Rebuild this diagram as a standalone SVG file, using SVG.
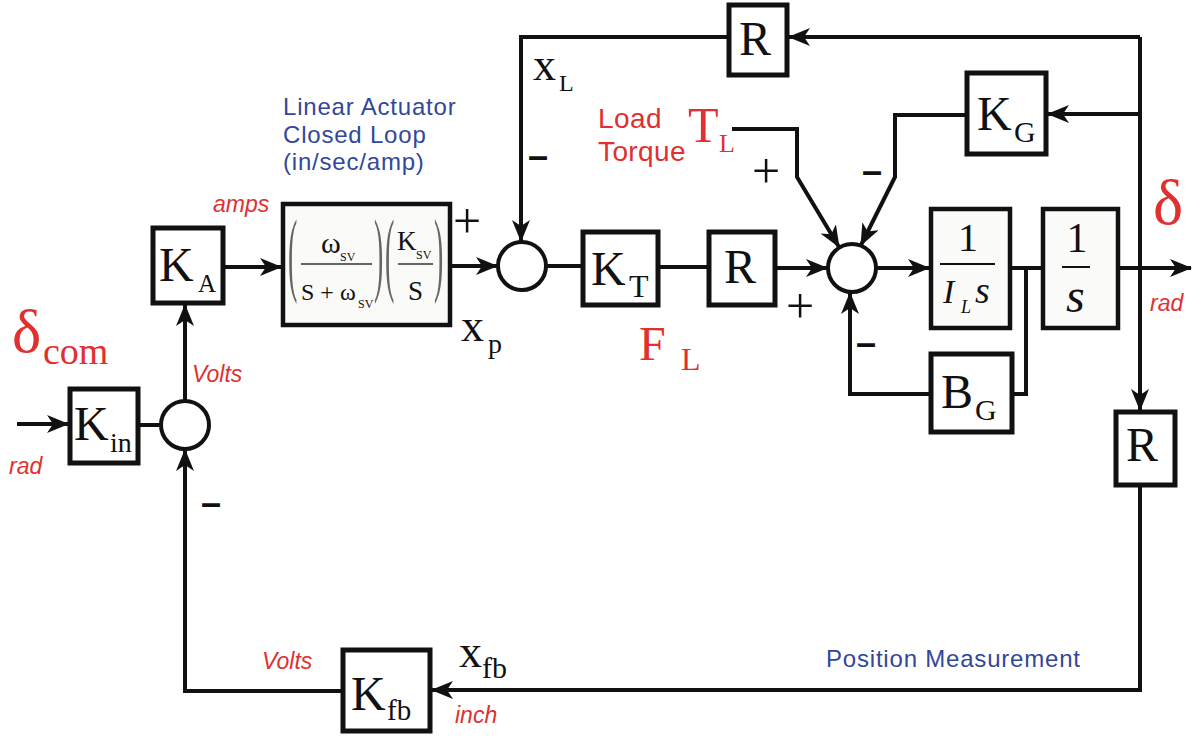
<svg xmlns="http://www.w3.org/2000/svg" width="1195" height="741" viewBox="0 0 1195 741">
<style>
.box{fill:#fff;stroke:#111;stroke-width:5}
.fbox{fill:#fbfbf9;stroke:#111;stroke-width:4.5}
.sum{fill:#fff;stroke:#111;stroke-width:4}
.ln{fill:none;stroke:#111;stroke-width:4}
.arr{fill:none;stroke:#111;stroke-width:4;marker-end:url(#ah)}
.ser{font-family:"Liberation Serif","Times New Roman",serif;fill:#111}
.red{fill:#e0302f}
.lab{font-family:"Liberation Sans",Arial,sans-serif;font-style:italic;font-size:23px;fill:#e0302f}
.blue{font-family:"Liberation Sans",Arial,sans-serif;font-size:24px;letter-spacing:0.8px;fill:#33479a}
.rsans{font-family:"Liberation Sans",Arial,sans-serif;font-size:28px;letter-spacing:0.4px;fill:#e0302f}
.minus{font-family:"Liberation Sans",Arial,sans-serif;font-weight:bold;font-size:36px;fill:#111}
.plus{font-family:"Liberation Serif","Times New Roman",serif;font-size:50px;fill:#111}
.frl{stroke:#333;stroke-width:1.5}
.par{font-family:"Liberation Serif","Times New Roman",serif;font-size:40px;fill:#666}
.sv{font-family:"Liberation Serif","Times New Roman",serif;font-size:12px;fill:#111}
</style>
<defs>
<marker id="ah" markerUnits="userSpaceOnUse" markerWidth="24" markerHeight="20" refX="21" refY="9" orient="auto">
<path d="M0,0 L22,9 L0,18 L6,9 Z" fill="#111"/>
</marker>
</defs>

<g id="connectors">
<path class="arr" d="M17,424 H68"/>
<path class="ln" d="M138,425 H161"/>
<path class="arr" d="M185,401 V305"/>
<path class="arr" d="M223,267 H281"/>
<path class="arr" d="M450,266 H497"/>
<path class="arr" d="M729,37 H521 V241"/>
<path class="ln" d="M546,266 H583"/>
<path class="ln" d="M658,267 H709"/>
<path class="arr" d="M775,268 H827"/>
<path class="arr" d="M732,129 H797 V177 L839,247"/>
<path class="arr" d="M967,115 H895 V177 L861,245"/>
<path class="arr" d="M876,268 H929"/>
<path class="ln" d="M1010,268 H1043"/>
<path class="ln" d="M1026,268 V394 H1012"/>
<path class="arr" d="M931,394 H850 V293"/>
<path class="arr" d="M1118,268 H1191"/>
<path class="arr" d="M1140,37 V410"/>
<path class="arr" d="M1140,37 H789"/>
<path class="arr" d="M1140,114 H1048"/>
<path class="arr" d="M1140,485 V690 H432"/>
<path class="arr" d="M343,691 H185 V450"/>
</g>

<g id="input-labels">
<text class="ser red" x="12" y="352" font-size="62">δ</text>
<text class="ser red" x="43" y="364" font-size="38">com</text>
<text class="lab" x="9" y="474">rad</text>
<text class="lab" x="192" y="382">Volts</text>
<text class="lab" x="213" y="212" font-size="20">amps</text>
</g>

<g id="Kin">
<rect class="box" x="70" y="389" width="68" height="74"/>
<text class="ser" x="74" y="440" font-size="48">K</text>
<text class="ser" x="110" y="452" font-size="28">in</text>
</g>

<g id="sum1">
<circle class="sum" cx="185" cy="425" r="24"/>
</g>

<g id="KA">
<rect class="box" x="153" y="228" width="70" height="75"/>
<text class="ser" x="159" y="281" font-size="48">K</text>
<text class="ser" x="198" y="292" font-size="25">A</text>
</g>

<g id="actuator">
<text class="blue" x="283" y="115">Linear Actuator</text>
<text class="blue" x="283" y="143">Closed Loop</text>
<text class="blue" x="283" y="170">(in/sec/amp)</text>
<rect x="283" y="204" width="167" height="121" fill="#fafaf8" stroke="#111" stroke-width="4.5"/>
<text class="par" transform="translate(288,284) scale(0.7,2.35)">(</text>
<text class="par" transform="translate(374,284) scale(0.7,2.35)">)</text>
<text class="par" transform="translate(385,284) scale(0.7,2.35)">(</text>
<text class="par" transform="translate(434,284) scale(0.7,2.35)">)</text>
<text class="ser" x="321" y="253" font-size="30">ω</text>
<text class="sv" x="340" y="261">SV</text>
<line class="frl" x1="301" y1="264" x2="372" y2="264"/>
<text class="ser" x="301" y="300" font-size="24">S + ω</text>
<text class="sv" x="358" y="308">SV</text>
<text class="ser" x="397" y="250" font-size="27">K</text>
<text class="sv" x="416" y="259">SV</text>
<line class="frl" x1="398" y1="264" x2="433" y2="264"/>
<text class="ser" x="408" y="300" font-size="27">S</text>
</g>

<g id="sum2-labels">
<text class="plus" x="453" y="238">+</text>
<text class="ser" x="461" y="341" font-size="46">x</text>
<text class="ser" x="488" y="353" font-size="28">p</text>
<text class="minus" x="528" y="168">–</text>
<text class="ser" x="533" y="80" font-size="46">x</text>
<text class="ser" x="559" y="91" font-size="24">L</text>
</g>

<g id="sum2">
<circle class="sum" cx="522" cy="266" r="24"/>
</g>

<g id="KT">
<rect class="box" x="583" y="232" width="75" height="73"/>
<text class="ser" x="591" y="285" font-size="48">K</text>
<text class="ser" x="629" y="297" font-size="32">T</text>
</g>

<g id="R1">
<rect class="box" x="709" y="232" width="66" height="73"/>
<text class="ser" x="724" y="283" font-size="48">R</text>
</g>

<g id="FL">
<text class="ser red" x="639" y="360" font-size="48">F</text>
<text class="ser red" x="681" y="370" font-size="32">L</text>
</g>

<g id="load">
<text class="rsans" x="598" y="128">Load</text>
<text class="rsans" x="598" y="161">Torque</text>
<text class="ser red" x="688" y="142" font-size="50">T</text>
<text class="ser red" x="719" y="152" font-size="26">L</text>
<text class="plus" x="752" y="188">+</text>
<text class="minus" x="862" y="183">–</text>
<text class="plus" x="786" y="323">+</text>
<text class="minus" x="856" y="355">–</text>
</g>

<g id="sum3">
<circle class="sum" cx="852" cy="268" r="24"/>
</g>

<g id="inertia">
<rect class="fbox" x="931" y="209" width="79" height="119"/>
<text class="ser" x="968" y="251" font-size="40" text-anchor="middle">1</text>
<line x1="940" y1="264" x2="995" y2="264" stroke="#111" stroke-width="2"/>
<text class="ser" x="943" y="303" font-size="34" font-style="italic">I</text>
<text class="ser" x="961" y="313" font-size="18" font-style="italic">L</text>
<text class="ser" x="975" y="303" font-size="38" font-style="italic">s</text>
</g>

<g id="integrator">
<rect class="fbox" x="1043" y="209" width="75" height="119"/>
<text class="ser" x="1077" y="252" font-size="42" text-anchor="middle">1</text>
<line x1="1062" y1="267" x2="1090" y2="267" stroke="#111" stroke-width="2"/>
<text class="ser" x="1066" y="312" font-size="48" font-style="italic">s</text>
</g>

<g id="BG">
<rect class="box" x="931" y="354" width="81" height="78"/>
<text class="ser" x="941" y="408" font-size="48">B</text>
<text class="ser" x="975" y="420" font-size="30">G</text>
</g>

<g id="KG">
<rect class="box" x="967" y="73" width="79" height="81"/>
<text class="ser" x="977" y="130" font-size="48">K</text>
<text class="ser" x="1014" y="142" font-size="30">G</text>
</g>

<g id="R-top">
<rect class="box" x="729" y="5" width="58" height="70"/>
<text class="ser" x="739" y="55" font-size="48">R</text>
</g>

<g id="output-labels">
<text class="ser red" x="1153" y="224" font-size="64">δ</text>
<text class="lab" x="1150" y="311">rad</text>
</g>

<g id="R-right">
<rect class="box" x="1116" y="412" width="59" height="73"/>
<text class="ser" x="1126" y="461" font-size="48">R</text>
</g>

<g id="Kfb">
<rect class="box" x="343" y="650" width="87" height="81"/>
<text class="ser" x="351" y="710" font-size="48">K</text>
<text class="ser" x="387" y="720" font-size="29">fb</text>
</g>

<g id="feedback-labels">
<text class="ser" x="459" y="667" font-size="46">x</text>
<text class="ser" x="482" y="678" font-size="30">fb</text>
<text class="lab" x="455" y="723">inch</text>
<text class="lab" x="262" y="669">Volts</text>
<text class="minus" x="201" y="515">–</text>
<text class="blue" x="826" y="667">Position Measurement</text>
</g>
</svg>
